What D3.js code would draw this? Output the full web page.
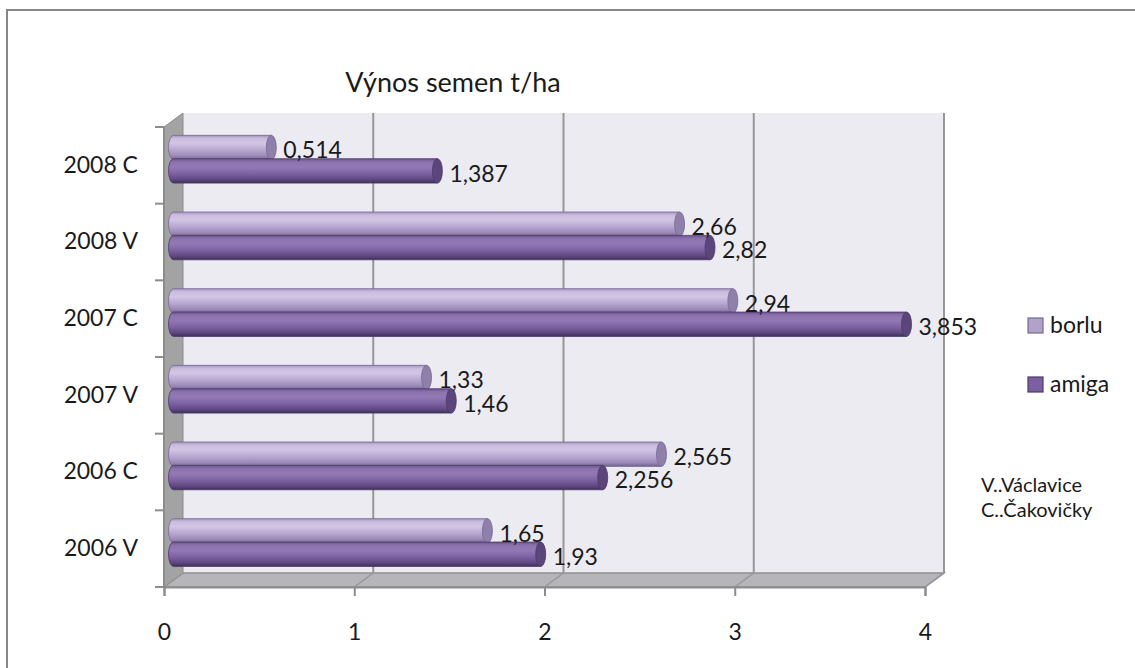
<!DOCTYPE html>
<html>
<head>
<meta charset="utf-8">
<script src="https://cdn.jsdelivr.net/npm/d3@7"></script>
<style>
  html, body { margin: 0; padding: 0; background: #ffffff; }
  svg { display: block; }
  text { font-family: Lato, "Open Sans", sans-serif; fill: #1a1a1a; }
</style>
</head>
<body>
<svg id="chart" width="1135" height="668"></svg>
<script>
// ---- data ----
const categories = ["2008 C", "2008 V", "2007 C", "2007 V", "2006 C", "2006 V"];
const seriesNames = ["borlu", "amiga"];
const borlu = [0.514, 2.66, 2.94, 1.33, 2.565, 1.65];
const amiga = [1.387, 2.82, 3.853, 1.46, 2.256, 1.93];
const xTicks = [0, 1, 2, 3, 4];
const title = "Výnos semen t/ha";
const noteLines = ["V..Václavice", "C..Čakovičky"];

const fmt = v => String(v).replace(".", ",");
const seriesValues = { borlu: borlu, amiga: amiga };

const svg = d3.select("#chart");

// outer chart border
svg.append("rect").attr("x", 7).attr("y", 10).attr("width", 1150).attr("height", 700)
  .attr("fill", "#ffffff").attr("stroke", "#878787").attr("stroke-width", 2);

// geometry of the 3D box
const depth = { dx: 19, dy: -14 };
const xFront = d3.scaleLinear().domain([0, 4]).range([164, 925]);
const xMid = d3.scaleLinear().domain([0, 4]).range([164 + depth.dx / 2, 925 + depth.dx / 2]);
const yFront = d3.scaleBand().domain(categories).range([127, 587]).paddingInner(0).paddingOuter(0);
const top0 = 127, bot0 = 587;

const defs = svg.append("defs");
function grad(id, stops) {
  const g = defs.append("linearGradient").attr("id", id)
    .attr("x1", 0).attr("y1", 0).attr("x2", 0).attr("y2", 1);
  stops.forEach(s => g.append("stop").attr("offset", s[0]).attr("stop-color", s[1]));
}
grad("g-borlu", [[0, "#a292bd"], [0.12, "#c9bbdd"], [0.32, "#d2c6e4"], [0.6, "#b8a7d1"], [0.85, "#9a89b5"], [1, "#6f6486"]]);
grad("g-amiga", [[0, "#6d5392"], [0.14, "#8d73ae"], [0.35, "#9279b5"], [0.6, "#7e62a2"], [0.85, "#5f4882"], [1, "#3e3057"]]);
const capFill = { borlu: "#8e80a8", amiga: "#5b457a" };
const edge = { borlu: "#76679a", amiga: "#4d3a6a" };
const legendFill = { borlu: "#b3a2c7", amiga: "#7b5fa0" };

// back wall
svg.append("rect")
  .attr("x", xFront(0) + depth.dx).attr("y", top0 + depth.dy)
  .attr("width", xFront(4) - xFront(0)).attr("height", bot0 - top0)
  .attr("fill", "#ecebf1");

// floor
svg.append("path")
  .attr("d", `M${xFront(0)},${bot0} L${xFront(0) + depth.dx},${bot0 + depth.dy} L${xFront(4) + depth.dx},${bot0 + depth.dy} L${xFront(4)},${bot0} Z`)
  .attr("fill", "#b6b5ba").attr("stroke", "#8f8f8f").attr("stroke-width", 1.5);

// gridlines on back wall + floor
xTicks.forEach(t => {
  if (t === 0) return;
  const xb = xFront(t) + depth.dx;
  svg.append("line").attr("x1", xb).attr("x2", xb).attr("y1", top0 + depth.dy).attr("y2", bot0 + depth.dy)
    .attr("stroke", "#979797").attr("stroke-width", 2);
  svg.append("line").attr("x1", xb).attr("y1", bot0 + depth.dy).attr("x2", xFront(t)).attr("y2", bot0)
    .attr("stroke", "#979797").attr("stroke-width", 1.5);
});

// left wall
svg.append("path")
  .attr("d", `M${xFront(0)},${top0} L${xFront(0) + depth.dx},${top0 + depth.dy} L${xFront(0) + depth.dx},${bot0 + depth.dy} L${xFront(0)},${bot0} Z`)
  .attr("fill", "#a3a3a3").attr("stroke", "#8c8c8c").attr("stroke-width", 1);

// bottom axis
const xAxis = d3.axisBottom(xFront).tickValues(xTicks).tickSize(9).tickPadding(28).tickFormat(d => d);
const gx = svg.append("g").attr("transform", `translate(0,${bot0})`).call(xAxis);
gx.select(".domain").attr("stroke", "#8c8c8c").attr("stroke-width", 2);
gx.selectAll(".tick line").attr("stroke", "#8c8c8c").attr("stroke-width", 2);
gx.selectAll(".tick text").attr("font-size", 23).attr("fill", "#1a1a1a")
  .style("font-family", "Lato, sans-serif");

// left axis (labels at band centres, ticks at band borders)
const yAxis = d3.axisLeft(yFront).tickSize(0).tickPadding(26);
const gy = svg.append("g").attr("transform", `translate(${xFront(0)},0)`).call(yAxis);
gy.select(".domain").remove();
gy.selectAll(".tick text").attr("font-size", 23).attr("fill", "#1a1a1a")
  .style("font-family", "Lato, sans-serif");
const borders = categories.map(c => yFront(c)).concat([yFront.range()[1]]);
svg.append("line").attr("x1", xFront(0)).attr("x2", xFront(0)).attr("y1", top0).attr("y2", bot0)
  .attr("stroke", "#8c8c8c").attr("stroke-width", 2);
svg.selectAll(".ytick").data(borders).join("line").attr("class", "ytick")
  .attr("x1", xFront(0) - 9).attr("x2", xFront(0)).attr("y1", d => d).attr("y2", d => d)
  .attr("stroke", "#8c8c8c").attr("stroke-width", 2);

// sub band for series inside each category (mid-depth)
const bw = yFront.bandwidth();
const ySub = d3.scaleBand().domain(seriesNames).range([bw * 0.2, bw * 0.81]).padding(0);
const barH = ySub.bandwidth() + 1;
const rx = 5;

const gBars = svg.append("g").attr("transform", `translate(0,${depth.dy / 2})`);
categories.forEach((c, i) => {
  seriesNames.forEach(s => {
    const v = seriesValues[s][i];
    const y0 = yFront(c) + ySub(s);
    const y1 = y0 + barH;
    const x0 = xMid(0), x1 = xMid(v);
    const ry = barH / 2;
    gBars.append("path")
      .attr("d", `M${x0},${y0} L${x1},${y0} L${x1},${y1} L${x0},${y1} A${rx},${ry} 0 0 1 ${x0},${y0} Z`)
      .attr("fill", `url(#g-${s})`).attr("stroke", edge[s]).attr("stroke-width", 0.8);
    gBars.append("ellipse")
      .attr("cx", x1).attr("cy", (y0 + y1) / 2).attr("rx", rx).attr("ry", ry)
      .attr("fill", capFill[s]).attr("stroke", edge[s]).attr("stroke-width", 0.8);
  });
});
// data labels on top
categories.forEach((c, i) => {
  seriesNames.forEach(s => {
    const v = seriesValues[s][i];
    const yc = yFront(c) + ySub(s) + barH / 2;
    gBars.append("text")
      .attr("x", xMid(v) + rx + 7).attr("y", yc + 5)
      .attr("dominant-baseline", "middle")
      .attr("font-size", 23).text(fmt(v));
  });
});

// title
svg.append("text").attr("x", 453).attr("y", 92).attr("text-anchor", "middle")
  .attr("font-size", 27).text(title);

// legend
const legend = svg.append("g");
seriesNames.forEach((s, i) => {
  const ly = 318 + i * 59;
  legend.append("rect").attr("x", 1028).attr("y", ly).attr("width", 15).attr("height", 15)
    .attr("fill", legendFill[s]).attr("stroke", edge[s]).attr("stroke-width", 1.2);
  legend.append("text").attr("x", 1050).attr("y", ly + 9).attr("dominant-baseline", "middle")
    .attr("font-size", 23).text(s);
});

// note
noteLines.forEach((t, i) => {
  svg.append("text").attr("x", 981).attr("y", 492 + i * 25)
    .attr("font-size", 20).attr("fill", "#111").text(t);
});
</script>
</body>
</html>
